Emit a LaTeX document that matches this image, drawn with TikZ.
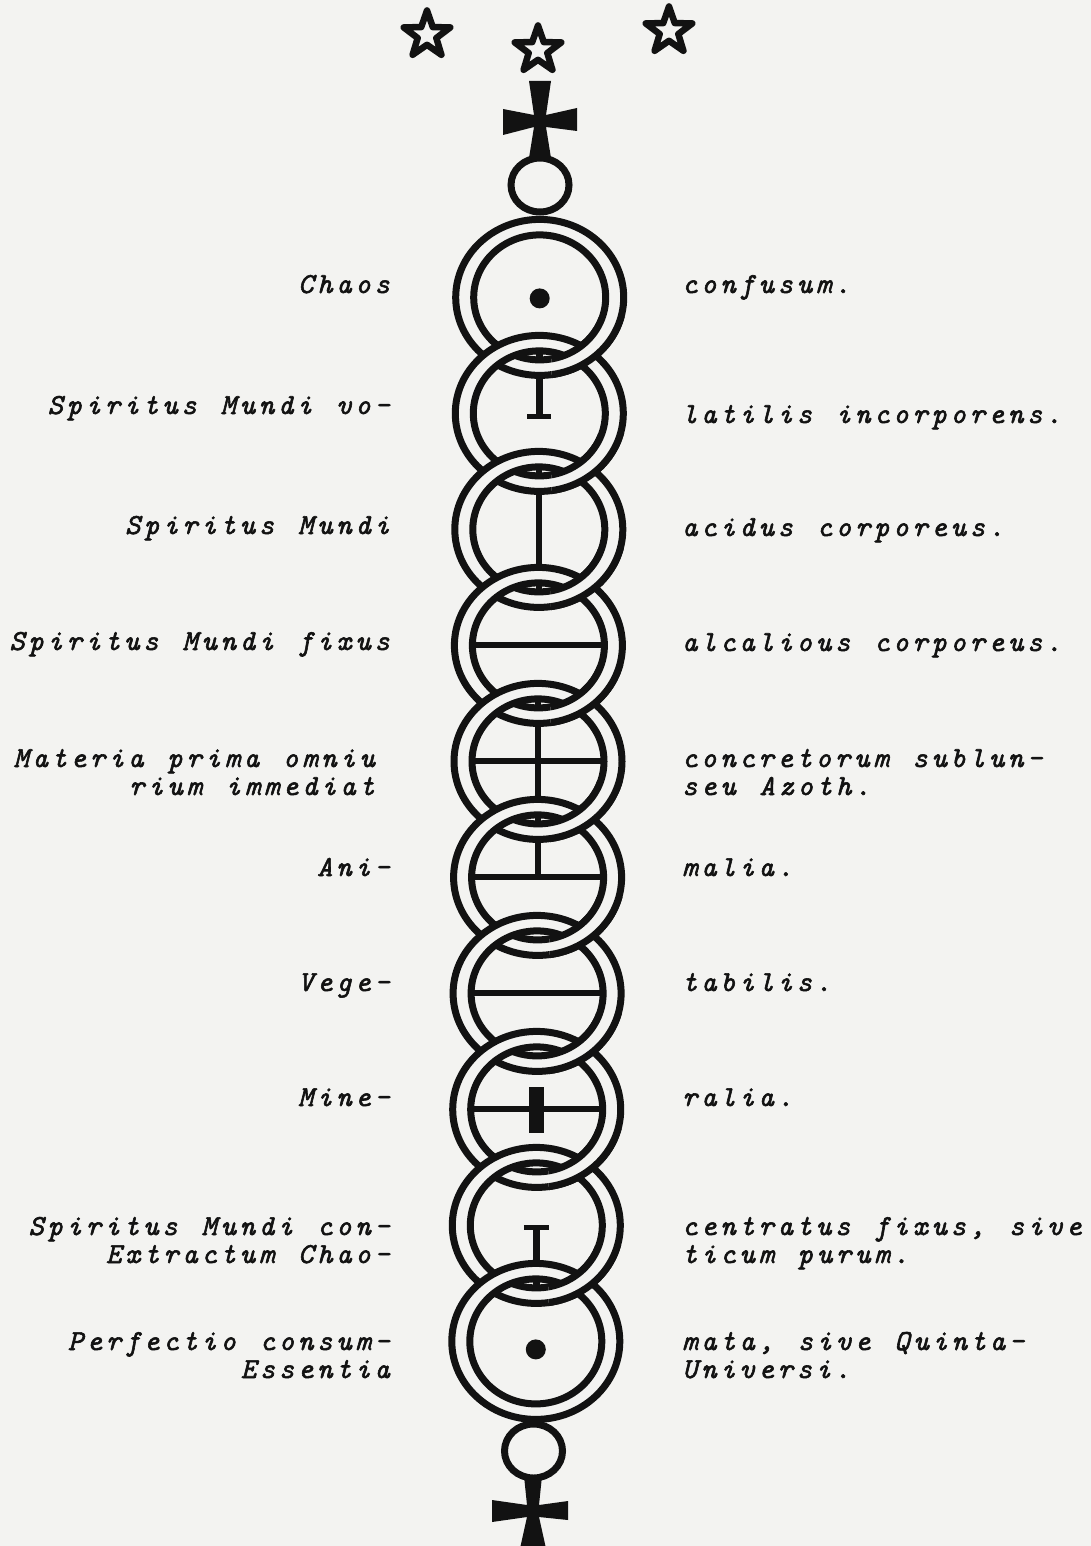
\documentclass[tikz,border=0pt]{standalone}
\usepackage{fontspec}
\newfontfamily\typefont{lmmono10-italic.otf}[LetterSpace=13.4, WordSpace=1.255, FakeBold=2]
\definecolor{paper}{RGB}{243,243,241}
\definecolor{ink}{RGB}{18,18,18}

\begin{document}
\begin{tikzpicture}[
      x=1pt,
      y=-1pt,
      ringline/.style={draw=ink, line width=7pt},
      band/.style={fill=paper, even odd rule},
      symline/.style={draw=ink, line width=6pt},
      starline/.style={draw=ink, fill=paper, line width=6.5pt, line join=round},
      lbl/.style={font=\typefont\fontsize{29}{28}\selectfont, text=ink, inner sep=0pt}
    ]

    % --- 1. Blatt und Masse ---
    \fill[paper] (0,0) rectangle (1091,1546);
    \useasboundingbox (0,0) rectangle (1091,1546);

    % Ringe: Radien der Linienmitte (leicht gestaucht wie im Scan)
    \def\Rox{84}
    \def\Roy{78}
    \def\Rix{66}
    \def\Riy{62.5}
    % Sternradien
    \def\sR{24.5}
    \def\sr{9.8}

    % Mittelpunkte der zehn Ringe
    \coordinate (r1)  at (539.7, 297.4);
    \coordinate (r2)  at (539.3, 413.4);
    \coordinate (r3)  at (538.8, 529.4);
    \coordinate (r4)  at (538.4, 645.4);
    \coordinate (r5)  at (538.0, 761.4);
    \coordinate (r6)  at (537.6, 877.4);
    \coordinate (r7)  at (537.1, 993.4);
    \coordinate (r8)  at (536.7, 1109.4);
    \coordinate (r9)  at (536.3, 1225.4);
    \coordinate (r10) at (535.8, 1341.4);

    % --- 2. Sterne ---
    \draw[starline] (427,35) +(-90:\sR)
      \foreach \k in {1,...,9} { -- +({-90+36*\k}:{\sR-(\sR-\sr)*mod(\k,2)}) } -- cycle;
    \draw[starline] (538,50) +(-90:\sR)
      \foreach \k in {1,...,9} { -- +({-90+36*\k}:{\sR-(\sR-\sr)*mod(\k,2)}) } -- cycle;
    \draw[starline] (669,31) +(-90:\sR)
      \foreach \k in {1,...,9} { -- +({-90+36*\k}:{\sR-(\sR-\sr)*mod(\k,2)}) } -- cycle;

    % --- 3. Kreuze und kleine Kreise oben und unten ---
    \fill[ink] (540,121) +(-11,-40) -- +(11,-40) -- +(6,-6) -- +(37,-13) -- +(37,10)
      -- +(6,6) -- +(11,37) -- +(-11,37) -- +(-6,6) -- +(-37,14) -- +(-37,-12)
      -- +(-6,-6) -- cycle;
    \draw[ringline] (540,185) ellipse[x radius=29, y radius=27];

    \draw[ringline] (533.5,1451) ellipse[x radius=29, y radius=27];
    \fill[ink] (533,1511) +(-9,-35) -- +(9,-35) -- +(6,-6) -- +(35,-10) -- +(35,9)
      -- +(6,6) -- +(14,42) -- +(-14,42) -- +(-6,6) -- +(-41,11) -- +(-41,-11)
      -- +(-6,-6) -- cycle;

    % --- 4. Zeichen in den Ringen (unter den Baendern) ---
    % 1: Punkt
    \fill[ink] (r1) ++(0,1) circle[radius=10];
    % 2: Stiel von oben mit Querstrich
    \draw[symline, line width=7.5pt] (r2) ++(0,-\Riy) -- ++(0,\Riy+3);
    \draw[symline, line width=5.5pt] (r2) ++(-12,3) -- ++(24,0);
    % 3: senkrechter Durchmesser
    \draw[symline] (r3) ++(0,-\Riy) -- ++(0,2*\Riy);
    % 4: waagrechter Durchmesser
    \draw[symline] (r4) ++(-\Rix,0) -- ++(2*\Rix,0);
    % 5: Kreuz
    \draw[symline] (r5) ++(-\Rix,0) -- ++(2*\Rix,0);
    \draw[symline] (r5) ++(0,-\Riy) -- ++(0,2*\Riy);
    % 6: umgekehrtes T
    \draw[symline] (r6) ++(-\Rix,0) -- ++(2*\Rix,0);
    \draw[symline] (r6) ++(0,-\Riy) -- ++(0,\Riy);
    % 7: waagrechter Durchmesser
    \draw[symline] (r7) ++(-\Rix,0) -- ++(2*\Rix,0);
    % 8: Durchmesser mit dickem Balken
    \draw[symline] (r8) ++(-\Rix,0) -- ++(2*\Rix,0);
    \fill[ink] (r8) ++(-7.5,-22) rectangle ++(15,46);
    % 9: T, Stiel nach unten
    \draw[symline, line width=7.5pt] (r9) ++(0,2) -- ++(0,\Riy);
    \draw[symline, line width=5.5pt] (r9) ++(-12.5,2) -- ++(25,0);
    % 10: Punkt, etwas tiefer
    \fill[ink] (r10) ++(0,8) circle[radius=10];

    % --- 5. Kette: der untere Ring liegt links oben ---
    \foreach \i in {1,...,10} {
      \path[band] (r\i) ellipse[x radius=\Rox, y radius=\Roy]
                  (r\i) ellipse[x radius=\Rix, y radius=\Riy];
      \draw[ringline] (r\i) ellipse[x radius=\Rox, y radius=\Roy]
                      (r\i) ellipse[x radius=\Rix, y radius=\Riy];
    }
    % rechts liegt der obere Ring oben
    \foreach \i in {1,...,9} {
      \begin{scope}
        \clip (r\i) ++(12,20) rectangle ++(100,80);
        \path[band] (r\i) ellipse[x radius=\Rox, y radius=\Roy]
                    (r\i) ellipse[x radius=\Rix, y radius=\Riy];
        \draw[ringline] (r\i) ellipse[x radius=\Rox, y radius=\Roy]
                        (r\i) ellipse[x radius=\Rix, y radius=\Riy];
      \end{scope}
    }

    % --- 6. Beschriftung links ---
    \node[lbl, anchor=base east] (chaos) at (390,293) {Chaos};
    \node[lbl, anchor=base east] (spvol) at (390,414) {Spiritus Mundi vo-};
    \node[lbl, anchor=base east] (spmun) at (390,534) {Spiritus Mundi};
    \node[lbl, anchor=base east] (spfix) at (390,650) {Spiritus Mundi fixus};
    \node[lbl, anchor=base east] (matA) at (375,767) {Materia prima omniu};
    \node[lbl, anchor=base east] (matB) at (375,795) {rium immediat};
    \node[lbl, anchor=base east] (ani) at (390,876) {Ani-};
    \node[lbl, anchor=base east] (vege) at (390,991) {Vege-};
    \node[lbl, anchor=base east] (mine) at (390,1106) {Mine-};
    \node[lbl, anchor=base east] (spconA) at (390,1235) {Spiritus Mundi con-};
    \node[lbl, anchor=base east] (spconB) at (390,1263) {Extractum Chao-};
    \node[lbl, anchor=base east] (perfA) at (390,1350) {Perfectio consum-};
    \node[lbl, anchor=base east] (perfB) at (390,1378) {Essentia};

    % --- 7. Beschriftung rechts ---
    \node[lbl, anchor=base west] (confus) at (682,293) {confusum.};
    \node[lbl, anchor=base west] (latil) at (682,423) {latilis incorporens.};
    \node[lbl, anchor=base west] (acid) at (682,536) {acidus corporeus.};
    \node[lbl, anchor=base west] (alcal) at (682,651) {alcalious corporeus.};
    \node[lbl, anchor=base west] (concA) at (682,767) {concretorum sublun-};
    \node[lbl, anchor=base west] (concB) at (682,795) {seu Azoth.};
    \node[lbl, anchor=base west] (malia) at (682,876) {malia.};
    \node[lbl, anchor=base west] (tabil) at (682,991) {tabilis.};
    \node[lbl, anchor=base west] (ralia) at (682,1106) {ralia.};
    \node[lbl, anchor=base west] (centA) at (682,1235) {centratus fixus, sive};
    \node[lbl, anchor=base west] (centB) at (682,1263) {ticum purum.};
    \node[lbl, anchor=base west] (quinA) at (682,1350) {mata, sive Quinta-};
    \node[lbl, anchor=base west] (quinB) at (682,1378) {Universi.};

  \end{tikzpicture}
\end{document}
